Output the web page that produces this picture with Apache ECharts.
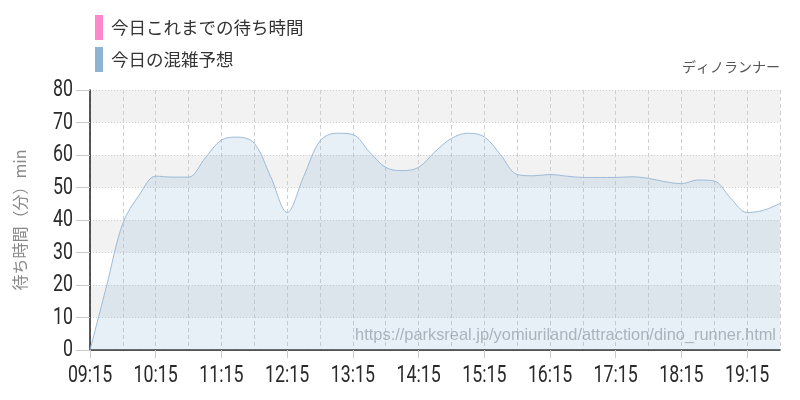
<!DOCTYPE html>
<html><head><meta charset="utf-8">
<script src="https://cdn.jsdelivr.net/npm/echarts@6/dist/echarts.min.js"></script>
<style>html,body{margin:0;padding:0;background:#fff}#c{width:800px;height:400px}</style>
</head><body><div id="c"></div>
<script>
const times = ['09:15','09:30','09:45','10:00','10:15','10:30','10:45','11:00','11:15','11:30','11:45','12:00','12:15','12:30','12:45','13:00','13:15','13:30','13:45','14:00','14:15','14:30','14:45','15:00','15:15','15:30','15:45','16:00','16:15','16:30','16:45','17:00','17:15','17:30','17:45','18:00','18:15','18:30','18:45','19:00','19:15','19:30','19:45'];
const forecast = [0,19.5,39,47.7,53.5,53.2,53.2,59,64.6,65.5,63.6,53.3,42.3,53.3,64.3,66.7,66.3,61,56.2,55.2,56.2,61,65.1,66.7,65.6,60,54,53.6,54,53.5,53.1,53.1,53.1,53.3,52.8,51.8,51.2,52.3,52,46.7,42.3,43,45.1];
const actual = [];
const yTicks = [0,10,20,30,40,50,60,70,80];
const seriesNames = ['今日これまでの待ち時間','今日の混雑予想'];
const yTitle = '待ち時間（分）min';
const attractionName = 'ディノランナー';
const sourceUrl = 'https://parksreal.jp/yomiuriland/attraction/dino_runner.html';

const jp = '"Noto Sans CJK JP","Noto Sans",sans-serif';
const labelFont = '24px Roboto,"DejaVu Sans",sans-serif';
const chart = echarts.init(document.getElementById('c'), null, {renderer:'canvas'});
const baseGraphic = [
  {type:'text', right:20, top:60, style:{text:attractionName, font:'14px '+jp, fill:'#555', textAlign:'right'}},
  {type:'text', right:24, top:327, z:100, style:{text:sourceUrl, font:'16.4px "Liberation Sans",sans-serif', fill:'rgba(120,130,140,0.55)', textAlign:'right'}}
];
chart.setOption({
  animation:false,
  backgroundColor:'#fff',
  legend:{
    orient:'vertical', left:90, top:10, itemWidth:8, itemHeight:25, itemGap:7,
    icon:'rect',
    textStyle:{fontFamily:jp, fontSize:17.5, color:'#333', padding:[0,0,0,3]},
    data:seriesNames
  },
  grid:{left:90, right:20, top:90, bottom:50, containLabel:false},
  xAxis:{
    type:'category', data:times, boundaryGap:false,
    axisLine:{lineStyle:{color:'#222', width:1.5}},
    axisTick:{show:true, interval:3, length:8, lineStyle:{color:'#c8c8c8'}},
    axisLabel:{show:false, interval:3},
    splitLine:{show:true, interval:1, lineStyle:{color:'#cfcfcf', type:[4,3]}}
  },
  yAxis:{
    type:'value', min:0, max:80, interval:10,
    name:yTitle, nameLocation:'middle', nameGap:62, nameRotate:90,
    nameTextStyle:{fontFamily:jp, fontSize:16, color:'#888'},
    axisLine:{show:true, lineStyle:{color:'#222', width:1.5}},
    axisTick:{show:true, length:14, lineStyle:{color:'#c8c8c8'}},
    axisLabel:{show:false},
    splitLine:{show:true, lineStyle:{color:'#cfcfcf', type:[1,2]}},
    splitArea:{show:true, areaStyle:{color:['#ffffff','#f2f2f2']}}
  },
  graphic:baseGraphic,
  series:[
    {name:seriesNames[0], type:'line', data:actual, itemStyle:{color:'#ff88cc'}, lineStyle:{color:'#ff88cc'}, showSymbol:false},
    {name:seriesNames[1], type:'line', data:forecast, smooth:0.35, showSymbol:false,
     itemStyle:{color:'#8fb3d3'}, lineStyle:{color:'#9dbbd6', width:1},
     areaStyle:{color:'rgba(140,179,217,0.3)'}}
  ]
});
// Axis labels drawn in a condensed style, positioned through the axes' own scales
const labels = [];
times.forEach((t, i) => {
  if (i % 4 !== 0) return;
  const p = chart.convertToPixel({gridIndex:0}, [i, 0]);
  labels.push({type:'text', x:p[0], y:p[1] + 14, scaleX:0.74,
    style:{text:t, font:labelFont, fill:'#2a2a2a', textAlign:'center', textVerticalAlign:'top'}});
});
yTicks.forEach(v => {
  const p = chart.convertToPixel({gridIndex:0}, [0, v]);
  labels.push({type:'text', x:p[0] - 17, y:p[1], scaleX:0.74,
    style:{text:String(v), font:labelFont, fill:'#2a2a2a', textAlign:'right', textVerticalAlign:'middle'}});
});
chart.setOption({graphic: baseGraphic.concat(labels)});
</script></body></html>
